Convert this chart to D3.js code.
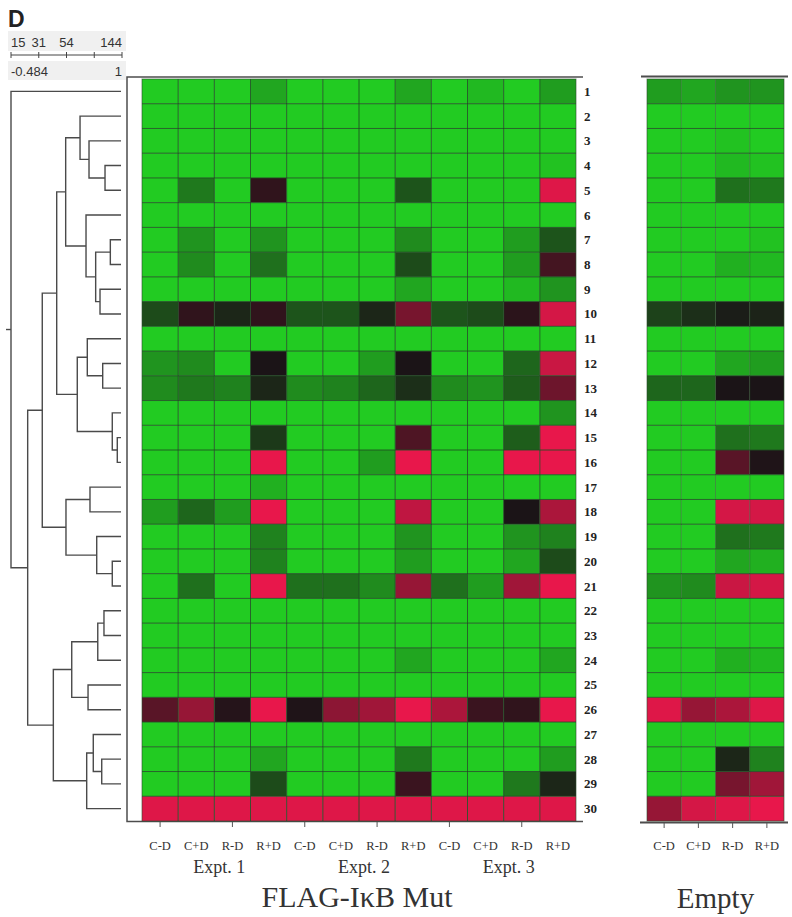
<!DOCTYPE html>
<html><head><meta charset="utf-8">
<script src="https://cdn.jsdelivr.net/npm/d3@7"></script>
<style>body{margin:0;background:#fff}svg{display:block}</style>
</head><body><svg id="c" width="792" height="917"></svg>
<script>
// ---------- data ----------
const rowLabels = d3.range(1, 31).map(String);
const conditions = ["C-D", "C+D", "R-D", "R+D"];
const experiments = ["Expt. 1", "Expt. 2", "Expt. 3"];
const groupTitles = ["FLAG-I\u03BAB Mut", "Empty"];
const scaleTopLabels = ["15", "31", "54", "144"];
const scaleBottomLabels = ["-0.484", "1"];
const corrDomain = [-0.484, 1];

// log ratio, -1 = full green, 0 = black, 1 = full red
const mutValues = [
  [-1,-1,-1,-0.8,-1,-1,-1,-0.8,-1,-0.9,-1,-0.75],
  [-1,-1,-1,-1,-1,-1,-1,-1,-1,-1,-1,-1],
  [-1,-1,-1,-1,-1,-1,-1,-1,-1,-1,-1,-1],
  [-1,-1,-1,-1,-1,-1,-1,-1,-1,-1,-1,-0.95],
  [-1,-0.55,-1,0.1,-1,-1,-1,-0.35,-1,-1,-1,0.95],
  [-1,-1,-1,-1,-1,-1,-1,-1,-1,-1,-1,-1],
  [-1,-0.7,-1,-0.7,-1,-1,-1,-0.65,-1,-1,-0.75,-0.35],
  [-1,-0.65,-1,-0.5,-1,-1,-1,-0.3,-1,-1,-0.75,0.2],
  [-1,-1,-1,-1,-1,-1,-1,-0.8,-1,-1,-0.9,-0.7],
  [-0.3,0.1,-0.1,0.1,-0.35,-0.35,-0.1,0.45,-0.35,-0.3,0.08,0.9],
  [-1,-1,-1,-1,-1,-1,-1,-1,-1,-1,-1,-1],
  [-0.7,-0.65,-1,0.0,-1,-1,-0.75,0.0,-1,-1,-0.45,0.85],
  [-0.65,-0.55,-0.6,-0.1,-0.65,-0.6,-0.45,-0.15,-0.65,-0.7,-0.4,0.4],
  [-1,-1,-1,-1,-1,-1,-1,-1,-1,-1,-1,-0.7],
  [-1,-1,-1,-0.2,-1,-1,-1,0.25,-1,-1,-0.4,1],
  [-1,-1,-1,1,-1,-1,-0.75,1,-1,-1,1,1],
  [-1,-1,-1,-0.85,-1,-1,-1,-1,-1,-1,-1,-1],
  [-0.75,-0.45,-0.75,1,-1,-1,-1,0.8,-1,-1,0.0,0.7],
  [-1,-1,-1,-0.6,-1,-1,-1,-0.7,-1,-1,-0.7,-0.6],
  [-1,-1,-1,-0.6,-1,-1,-1,-0.75,-1,-1,-0.8,-0.3],
  [-1,-0.5,-1,1,-0.5,-0.5,-0.65,0.6,-0.5,-0.75,0.65,1],
  [-1,-1,-1,-1,-1,-1,-1,-1,-1,-1,-1,-1],
  [-1,-1,-1,-1,-1,-1,-1,-1,-1,-1,-1,-1],
  [-1,-1,-1,-1,-1,-1,-1,-0.8,-1,-1,-1,-0.8],
  [-1,-1,-1,-1,-1,-1,-1,-1,-1,-1,-1,-1],
  [0.3,0.6,0.05,1,0.02,0.55,0.65,1,0.7,0.15,0.1,1],
  [-1,-1,-1,-1,-1,-1,-1,-1,-1,-1,-1,-1],
  [-1,-1,-1,-0.8,-1,-1,-1,-0.55,-1,-1,-1,-0.75],
  [-1,-1,-1,-0.3,-1,-1,-1,0.15,-1,-1,-0.55,-0.1],
  [0.95,0.95,0.95,0.95,0.95,0.95,0.95,0.95,0.95,0.95,0.95,0.95]
];
const emptyValues = [
  [-0.75,-0.8,-0.7,-0.7],
  [-1,-1,-1,-1],
  [-1,-1,-0.95,-1],
  [-1,-1,-0.9,-0.95],
  [-1,-1,-0.5,-0.55],
  [-1,-1,-1,-1],
  [-1,-1,-1,-0.95],
  [-1,-1,-0.85,-0.9],
  [-1,-1,-1,-1],
  [-0.25,-0.15,-0.05,-0.08],
  [-1,-1,-1,-1],
  [-1,-1,-0.8,-0.75],
  [-0.45,-0.45,0.0,0.0],
  [-1,-1,-1,-1],
  [-1,-1,-0.5,-0.55],
  [-1,-1,0.3,0.02],
  [-1,-1,-1,-1],
  [-1,-1,0.9,0.9],
  [-1,-1,-0.5,-0.55],
  [-1,-1,-0.8,-0.85],
  [-0.7,-0.65,0.85,0.9],
  [-1,-1,-1,-1],
  [-1,-1,-1,-1],
  [-1,-1,-0.85,-0.9],
  [-1,-1,-1,-1],
  [0.95,0.6,0.7,0.95],
  [-1,-1,-1,-1],
  [-1,-1,-0.1,-0.6],
  [-1,-1,0.45,0.65],
  [0.6,0.9,0.95,1]
];
// dendrogram: [correlation, left, right]; leaves are row numbers
const tree = [-0.484, 1,
  [-0.261,
    [-0.066,
      [0.127,
        [0.247,
          [0.439, 2, [0.559, 3, [0.773, 4, 5]]],
          [0.519, 6, [0.648, [0.844, 7, 8], [0.706, 9, 10]]]],
        [0.402,
          [0.536, 11, [0.742, 12, 13]],
          [0.870, 14, [0.937, 15, 16]]]],
      [0.251,
        [0.572, 17, 18],
        [0.662, 19, [0.870, 20, 21]]]],
    [0.082,
      [0.328,
        [0.676, [0.759, 22, 23], 24],
        [0.546, 25, 26]],
      [0.528,
        [0.616, 27, [0.729, 28, 29]],
        30]]]];

// ---------- layout ----------
const svg = d3.select("#c");
const serif = "'Liberation Serif', 'Times New Roman', serif";
const sans = "'Liberation Sans', Arial, sans-serif";

const gTop = 79, gBottom = 821;
const y = d3.scaleBand().domain(rowLabels).range([gTop, gBottom]);
const mutCols = experiments.flatMap(e => conditions.map(c => e + "|" + c));
const xMut = d3.scaleBand().domain(mutCols).range([142, 576]);
const xEmpty = d3.scaleBand().domain(conditions).range([647, 784]);
const xDen = d3.scaleLinear().domain(corrDomain).range([11, 122]);

const GREEN = "#22cb22", RED = "#e8174b", MID = "#1b1417";
const color = d3.scaleLinear().domain([-1, 0, 1]).range([GREEN, MID, RED]).clamp(true);

// ---------- header legend ----------
svg.append("text").attr("x", 8).attr("y", 27).text("D")
  .attr("font-family", sans).attr("font-weight", "bold").attr("font-size", 23).attr("fill", "#222");
svg.append("rect").attr("x", 8).attr("y", 31).attr("width", 118).attr("height", 20).attr("fill", "#f0f0f0");
svg.append("rect").attr("x", 8).attr("y", 61).attr("width", 118).attr("height", 19).attr("fill", "#f0f0f0");
const legTicks = d3.range(5).map(i => corrDomain[0] + i * (corrDomain[1] - corrDomain[0]) / 4);
svg.append("line").attr("x1", xDen(corrDomain[0])).attr("x2", xDen(corrDomain[1]))
  .attr("y1", 55).attr("y2", 55).attr("stroke", "#444").attr("stroke-width", 1);
svg.selectAll(".lt").data(legTicks).join("line")
  .attr("x1", d => xDen(d)).attr("x2", d => xDen(d)).attr("y1", 52).attr("y2", 58)
  .attr("stroke", "#444").attr("stroke-width", 1);
const topTickIdx = [0, 1, 2, 4];
svg.selectAll(".tl").data(scaleTopLabels).join("text")
  .attr("x", (d, i) => xDen(legTicks[topTickIdx[i]]))
  .attr("y", 47)
  .attr("text-anchor", (d, i) => i === 0 ? "start" : (i === 3 ? "end" : "middle"))
  .attr("font-family", sans).attr("font-size", 13).attr("fill", "#333").text(d => d);
svg.selectAll(".bl").data(scaleBottomLabels).join("text")
  .attr("x", (d, i) => xDen(corrDomain[i]))
  .attr("y", 76)
  .attr("text-anchor", (d, i) => i === 0 ? "start" : "end")
  .attr("font-family", sans).attr("font-size", 13).attr("fill", "#333").text(d => d);

// ---------- dendrogram ----------
const dg = svg.append("g").attr("fill", "none").attr("stroke", "#4a4a4a").attr("stroke-width", 1.4);
function layout(node) {
  if (typeof node === "number") {
    const lbl = String(node);
    return { x: xDen(corrDomain[1]) - 1, y: y(lbl) + y.bandwidth() / 2 };
  }
  const [h, a, b] = node;
  const A = layout(a), B = layout(b);
  const X = xDen(h);
  dg.append("path").attr("d", `M${A.x},${A.y}H${X}V${B.y}H${B.x}`);
  return { x: X, y: (A.y + B.y) / 2 };
}
const rootPos = layout(tree);
dg.append("path").attr("d", `M${rootPos.x - 5},${rootPos.y}H${rootPos.x}`);

// ---------- frames ----------
const frame = svg.append("g").attr("stroke", "#4d4d4d").attr("fill", "none");
frame.append("path").attr("d", `M583,77H127V821.5H583`).attr("stroke-width", 1.5);
frame.append("path").attr("d", `M641,76.5H788`).attr("stroke-width", 2);
frame.append("path").attr("d", `M640,822.5H788`).attr("stroke-width", 2);

// ---------- heatmaps ----------
function heat(values, xs, cols, gridV) {
  const g = svg.append("g");
  const cells = values.flatMap((row, r) => row.map((v, c) => ({ r: rowLabels[r], c: cols[c], v })));
  g.selectAll("rect").data(cells).join("rect")
    .attr("x", d => xs(d.c)).attr("y", d => y(d.r))
    .attr("width", xs.bandwidth()).attr("height", y.bandwidth())
    .attr("fill", d => color(d.v));
  const x0 = xs.range()[0], x1 = xs.range()[1];
  g.selectAll(".h").data(rowLabels.slice(1)).join("line")
    .attr("x1", x0).attr("x2", x1).attr("y1", d => y(d)).attr("y2", d => y(d))
    .attr("stroke", "#1f4f22").attr("stroke-opacity", 0.85).attr("stroke-width", 1);
  g.selectAll(".v").data(cols.slice(1)).join("line")
    .attr("x1", d => xs(d)).attr("x2", d => xs(d)).attr("y1", gTop).attr("y2", gBottom)
    .attr("stroke", "#1f4f22").attr("stroke-opacity", gridV).attr("stroke-width", 1);
  g.append("rect").attr("x", x0).attr("y", gTop).attr("width", x1 - x0).attr("height", gBottom - gTop)
    .attr("fill", "none").attr("stroke", "#2b4a2b").attr("stroke-opacity", 0.6).attr("stroke-width", 1);
}
heat(mutValues, xMut, mutCols, 0.85);
heat(emptyValues, xEmpty, conditions, 0.5);

// ---------- row labels ----------
svg.selectAll(".rl").data(rowLabels).join("text")
  .attr("x", 584).attr("y", d => y(d) + y.bandwidth() / 2 + 4.5)
  .attr("font-family", serif).attr("font-weight", "bold").attr("font-size", 13).attr("fill", "#222")
  .text(d => d);

// ---------- bottom axes ----------
const ax = svg.append("g").attr("stroke", "#555").attr("stroke-width", 1);
ax.selectAll(".tm").data(mutCols.filter((d, i) => i % 2 === 0)).join("line")
  .attr("x1", d => xMut(d) + xMut.bandwidth() / 2).attr("x2", d => xMut(d) + xMut.bandwidth() / 2)
  .attr("y1", 822).attr("y2", 827);
ax.selectAll(".te").data(conditions).join("line")
  .attr("x1", d => xEmpty(d) + xEmpty.bandwidth() / 2).attr("x2", d => xEmpty(d) + xEmpty.bandwidth() / 2)
  .attr("y1", 823).attr("y2", 828);

svg.selectAll(".cm").data(mutCols).join("text")
  .attr("x", d => xMut(d) + xMut.bandwidth() / 2).attr("y", 850)
  .attr("text-anchor", "middle").attr("font-family", serif).attr("font-size", 12.5).attr("fill", "#333")
  .text(d => d.split("|")[1]);
svg.selectAll(".ce").data(conditions).join("text")
  .attr("x", d => xEmpty(d) + xEmpty.bandwidth() / 2).attr("y", 850)
  .attr("text-anchor", "middle").attr("font-family", serif).attr("font-size", 12.5).attr("fill", "#333")
  .text(d => d);
svg.selectAll(".ex").data(experiments).join("text")
  .attr("x", (d, i) => xMut(experiments[i] + "|" + conditions[2]) + 5)
  .attr("y", 873)
  .attr("text-anchor", "middle").attr("font-family", serif).attr("font-size", 18).attr("fill", "#333")
  .text(d => d);
svg.append("text").attr("x", (xMut.range()[0] + xMut.range()[1]) / 2 - 2).attr("y", 907)
  .attr("text-anchor", "middle").attr("font-family", serif).attr("font-size", 30).attr("fill", "#333")
  .text(groupTitles[0]);
svg.append("text").attr("x", (xEmpty.range()[0] + xEmpty.range()[1]) / 2).attr("y", 908)
  .attr("text-anchor", "middle").attr("font-family", serif).attr("font-size", 29).attr("fill", "#333")
  .text(groupTitles[1]);
</script></body></html>
